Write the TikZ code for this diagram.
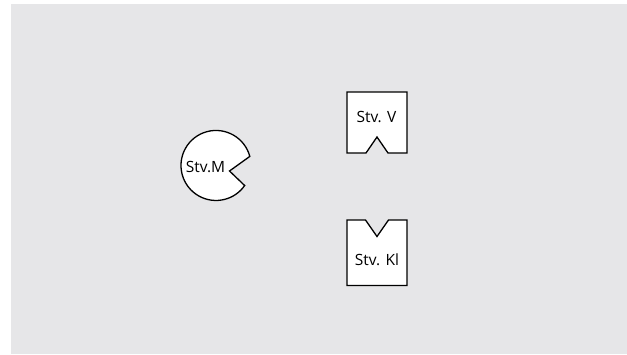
\documentclass[tikz,border=0pt]{standalone}
\usepackage{fontspec}
\setmainfont{Open Sans}
\definecolor{panel}{HTML}{E6E6E8}
\begin{document}
\begin{tikzpicture}[x=1pt, y=-1pt,
  part/.style={draw=black, fill=white, line width=1.3pt, line join=miter},
  tag/.style={inner sep=0pt, font=\fontsize{15.5}{18}\selectfont}]
\useasboundingbox (0,0) rectangle (627,354);
\fill[panel] (11,4) rectangle (627,354);

% round part with a V notch on its right side
\draw[part] (249.8,156.4) arc[start angle=-15, end angle=-325, radius=35]
  -- (229.5,171) -- cycle;
\node[tag] (m) at (205.5,167) {Stv.M};

% upper block, notch cut into the bottom edge
\draw[part] (347,92) -- (407,92) -- (407,153) -- (388,153) -- (377,137)
  -- (366,153) -- (347,153) -- cycle;
\node[tag] (v) at (376.5,117) {Stv. V};

% lower block, notch cut into the top edge
\draw[part] (347,220) -- (365.5,220) -- (377,236.5) -- (388.5,220)
  -- (407,220) -- (407,285.5) -- (347,285.5) -- cycle;
\node[tag] (kl) at (377,260) {Stv. Kl};
\end{tikzpicture}
\end{document}
